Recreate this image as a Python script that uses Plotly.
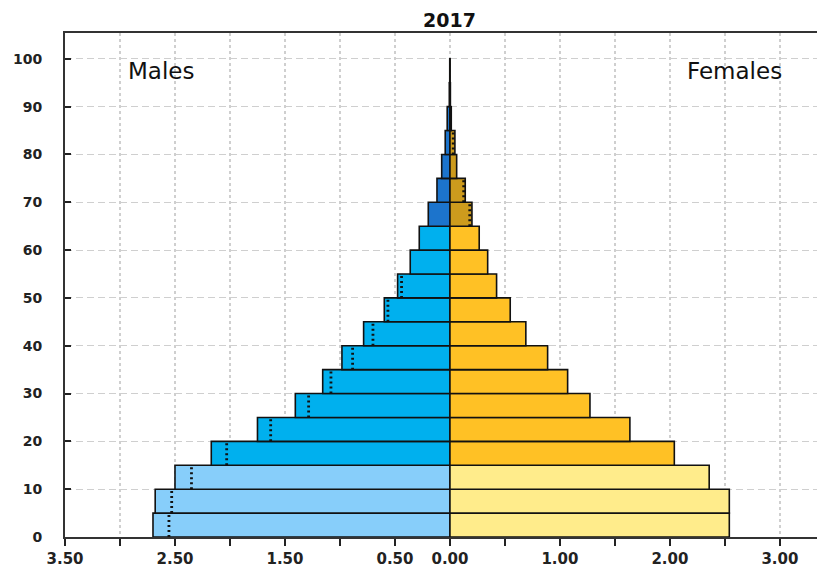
import plotly.graph_objects as go

# ---- data ----
age_start = [0, 5, 10, 15, 20, 25, 30, 35, 40, 45, 50, 55, 60, 65, 70, 75, 80, 85, 90, 95]
males = [2.70, 2.68, 2.50, 2.17, 1.75, 1.406, 1.157, 0.982, 0.785, 0.597,
         0.476, 0.361, 0.279, 0.197, 0.118, 0.075, 0.043, 0.025, 0.006, 0.002]
females = [2.54, 2.54, 2.357, 2.04, 1.636, 1.273, 1.07, 0.888, 0.69, 0.548,
           0.424, 0.343, 0.266, 0.20, 0.139, 0.061, 0.045, 0.012, 0.004, 0.001]
males_ref = [2.555, 2.53, 2.35, 2.03, 1.63, 1.285, 1.082, 0.885, 0.70, 0.564,
             0.44, None, None, None, None, None, None, None, None, None]
females_ref = [None, None, None, None, None, None, None, None, None, None,
               None, None, None, 0.18, 0.125, None, 0.03, None, None, None]
x_tickvals = [-3.5, -3.0, -2.5, -2.0, -1.5, -1.0, -0.5, 0.0, 0.5, 1.0, 1.5, 2.0, 2.5, 3.0]
x_ticktext = ["3.50", "", "2.50", "", "1.50", "", "0.50", "0.00", "", "1.00", "", "2.00", "", "3.00"]
y_tickvals = [0, 10, 20, 30, 40, 50, 60, 70, 80, 90, 100]
group_width = 5

# ---- colours by age band ----
def male_color(a):
    if a < 15:
        return "#87CEFA"
    if a < 65:
        return "#00B0EE"
    return "#1C74CC"

def female_color(a):
    if a < 15:
        return "#FFEC8B"
    if a < 65:
        return "#FFC125"
    return "#CD9B1D"

mid = [a + group_width / 2 for a in age_start]

fig = go.Figure()
fig.add_trace(go.Bar(
    y=mid, x=[-v for v in males], orientation="h", width=group_width,
    marker=dict(color=[male_color(a) for a in age_start],
                line=dict(color="#111111", width=1.6)),
    showlegend=False, hoverinfo="skip"))
fig.add_trace(go.Bar(
    y=mid, x=females, orientation="h", width=group_width,
    marker=dict(color=[female_color(a) for a in age_start],
                line=dict(color="#111111", width=1.6)),
    showlegend=False, hoverinfo="skip"))

# dotted reference lines
def ref_segments(vals, sign):
    xs, ys = [], []
    for a, v in zip(age_start, vals):
        if v is None:
            continue
        xs += [sign * v, sign * v, None]
        ys += [a, a + group_width, None]
    return xs, ys

for vals, sign in ((males_ref, -1), (females_ref, 1)):
    xs, ys = ref_segments(vals, sign)
    fig.add_trace(go.Scatter(x=xs, y=ys, mode="lines",
                             line=dict(color="#111111", width=2.8, dash="2px,3px"),
                             showlegend=False, hoverinfo="skip"))

fig.add_annotation(x=0, y=1, xref="x", yref="paper", yanchor="bottom", yshift=0,
                   text="<b>2017</b>", showarrow=False,
                   font=dict(family="DejaVu Sans", size=19, color="#111111"))
fig.add_annotation(x=-2.63, y=97.5, xref="x", yref="y", text="Males", showarrow=False,
                   font=dict(family="DejaVu Sans", size=23, color="#111111"))
fig.add_annotation(x=2.59, y=97.5, xref="x", yref="y", text="Females", showarrow=False,
                   font=dict(family="DejaVu Sans", size=23, color="#111111"))

fig.update_layout(
    width=817, height=562,
    margin=dict(l=57, r=0, t=25, b=33, autoexpand=False),
    paper_bgcolor="white", plot_bgcolor="white",
    barmode="overlay",
    xaxis=dict(range=[-3.5, 3.41], tickvals=x_tickvals, ticktext=x_ticktext,
               showgrid=True, gridcolor="#cfcfcf", griddash="dot", gridwidth=1.5,
               zeroline=False, showline=True, linecolor="#333333", linewidth=2,
               mirror=True, ticks="outside", ticklen=7, tickwidth=1.5, tickcolor="#222222",
               tickfont=dict(family="DejaVu Sans", size=15, color="#222222", weight="bold")),
    yaxis=dict(range=[0, 105.4], tickvals=y_tickvals,
               showgrid=True, gridcolor="#cfcfcf", griddash="7px,4px", gridwidth=1.3,
               zeroline=False, showline=True, linecolor="#333333", linewidth=2,
               ticks="inside", ticklen=6, tickwidth=1.5, tickcolor="#222222",
               ticklabelstandoff=18,
               tickfont=dict(family="DejaVu Sans", size=14, color="#222222", weight="bold")),
)

fig.write_html("out.html")
